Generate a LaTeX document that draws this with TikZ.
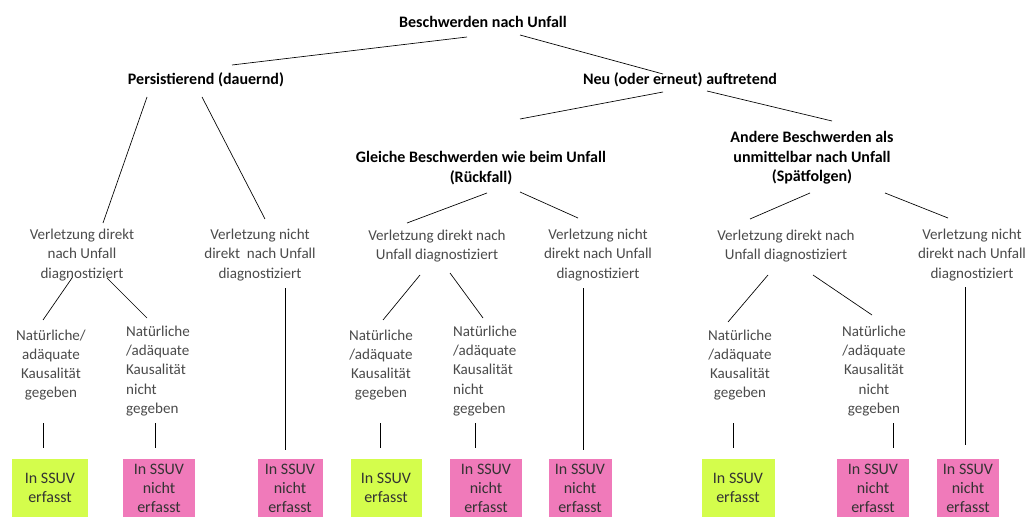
\documentclass[tikz,border=0pt]{standalone}
\usepackage{fontspec}
\setmainfont{Carlito}
\definecolor{txtgray}{HTML}{4A4A4A}
\definecolor{okgreen}{HTML}{D4FD4C}
\definecolor{nokpink}{HTML}{F07ABA}
\tikzset{
  lbl/.style={align=center,text=txtgray,inner sep=0pt,font=\fontsize{11.3}{14.3}\selectfont},
  lbll/.style={lbl,align=left},
  head/.style={align=center,text=black,inner sep=0pt,font=\fontsize{12}{14.5}\selectfont\bfseries},
  okbox/.style={fill=okgreen,minimum height=43.5pt,inner sep=0pt,align=center,text=black!80,font=\fontsize{12}{14.3}\selectfont},
  nokbox/.style={okbox,fill=nokpink},
  conn/.style={draw=black,line width=0.5pt}
}
\begin{document}
\begin{tikzpicture}[x=0.75pt,y=-0.75pt]
  \useasboundingbox (0,0) rectangle (1033,524);

  % upper levels
  \node[head] (root) at (483,22) {Beschwerden nach Unfall};
  \node[head] (pers) at (206,80) {Persistierend (dauernd)};
  \node[head] (neu) at (680,80) {Neu (oder erneut) auftretend};
  \node[head] (gl) at (481,168) {Gleiche Beschwerden wie beim Unfall\\(Rückfall)};
  \node[head] (and) at (812,158) {Andere Beschwerden als\\unmittelbar nach Unfall\\(Spätfolgen)};

  % Verletzung
  \node[lbl] (a1) at (82,255) {Verletzung direkt\\nach Unfall\\diagnostiziert};
  \node[lbl] (a2) at (260,255) {Verletzung nicht\\direkt \ nach Unfall\\diagnostiziert};
  \node[lbl] (b1) at (437,246) {Verletzung direkt nach\\Unfall diagnostiziert};
  \node[lbl] (b2) at (598,255) {Verletzung nicht\\direkt nach Unfall\\diagnostiziert};
  \node[lbl] (c1) at (786,246) {Verletzung direkt nach\\Unfall diagnostiziert};
  \node[lbl] (c2) at (972,255) {Verletzung nicht\\direkt nach Unfall\\diagnostiziert};

  % Kausalitaet
  \node[lbl] (a11) at (51,365) {Natürliche/\\adäquate\\Kausalität\\gegeben};
  \node[lbll] (a12) at (158,371) {Natürliche\\/adäquate\\Kausalität\\nicht\\gegeben};
  \node[lbl] (b11) at (381,365) {Natürliche\\/adäquate\\Kausalität\\gegeben};
  \node[lbll] (b12) at (485,371) {Natürliche\\/adäquate\\Kausalität\\nicht\\gegeben};
  \node[lbl] (c11) at (740,365) {Natürliche\\/adäquate\\Kausalität\\gegeben};
  \node[lbl] (c12) at (874,371) {Natürliche\\/adäquate\\Kausalität\\nicht\\gegeben};

  % SSUV boxes
  \node[okbox,minimum width=57pt] (ga) at (50,488) {In SSUV\\erfasst};
  \node[nokbox,minimum width=54pt] (pa) at (159,488) {In SSUV\\nicht\\erfasst};
  \node[nokbox,minimum width=48.75pt] (pa2) at (290,488) {In SSUV\\nicht\\erfasst};
  \node[okbox,minimum width=53.25pt] (gb) at (386,488) {In SSUV\\erfasst};
  \node[nokbox,minimum width=54pt] (pb) at (486,488) {In SSUV\\nicht\\erfasst};
  \node[nokbox,minimum width=47.25pt] (pb2) at (580,488) {In SSUV\\nicht\\erfasst};
  \node[okbox,minimum width=54.75pt] (gc) at (738,488) {In SSUV\\erfasst};
  \node[nokbox,minimum width=54pt] (pc) at (873,488) {In SSUV\\nicht\\erfasst};
  \node[nokbox,minimum width=46.5pt] (pc2) at (968,488) {In SSUV\\nicht\\erfasst};

  % connectors
  \draw[conn] ([shift={(-16,15)}]root.center) -- ([shift={(26,-15)}]pers.center);
  \draw[conn] ([shift={(37,13)}]root.center) -- ([shift={(-17,-6)}]neu.center);
  \draw[conn] ([shift={(-17,12)}]neu.center) -- ([shift={(39,-49)}]gl.center);
  \draw[conn] ([shift={(27,11)}]neu.center) -- ([shift={(20,-37)}]and.center);
  \draw[conn] ([shift={(-59,17)}]pers.center) -- ([shift={(21,-32)}]a1.center);
  \draw[conn] ([shift={(-4,17)}]pers.center) -- ([shift={(5,-36)}]a2.center);
  \draw[conn] ([shift={(6,25)}]gl.center) -- ([shift={(-30,-23)}]b1.center);
  \draw[conn] ([shift={(39,24)}]gl.center) -- ([shift={(-20,-37)}]b2.center);
  \draw[conn] ([shift={(-2,35)}]and.center) -- ([shift={(-36,-27)}]c1.center);
  \draw[conn] ([shift={(73,35)}]and.center) -- ([shift={(-24,-37)}]c2.center);
  \draw[conn] ([shift={(-10,23)}]a1.center) -- ([shift={(-8,-45)}]a11.center);
  \draw[conn] ([shift={(25,23)}]a1.center) -- ([shift={(-11,-53)}]a12.center);
  \draw[conn] ([shift={(-17,29)}]b1.center) -- ([shift={(2,-45)}]b11.center);
  \draw[conn] ([shift={(13,27)}]b1.center) -- ([shift={(-2,-53)}]b12.center);
  \draw[conn] ([shift={(-18,29)}]c1.center) -- ([shift={(-12,-43)}]c11.center);
  \draw[conn] ([shift={(27,29)}]c1.center) -- ([shift={(-2,-56)}]c12.center);

  % down to the boxes
  \draw[conn] ([shift={(-7,-11)}]ga.north) -- ++(0,-25);
  \draw[conn] ([shift={(-4,-11)}]pa.north) -- ++(0,-25);
  \draw[conn] ([shift={(-5,-9)}]pa2.north) -- ++(0,-162);
  \draw[conn] ([shift={(-6,-11)}]gb.north) -- ++(0,-25);
  \draw[conn] ([shift={(-11,-11)}]pb.north) -- ++(0,-25);
  \draw[conn] ([shift={(3,-9)}]pb2.north) -- ++(0,-162);
  \draw[conn] ([shift={(-5,-11)}]gc.north) -- ++(0,-25);
  \draw[conn] ([shift={(20,-11)}]pc.north) -- ++(0,-25);
  \draw[conn] ([shift={(-3,-14)}]pc2.north) -- ++(0,-158);
\end{tikzpicture}
\end{document}
